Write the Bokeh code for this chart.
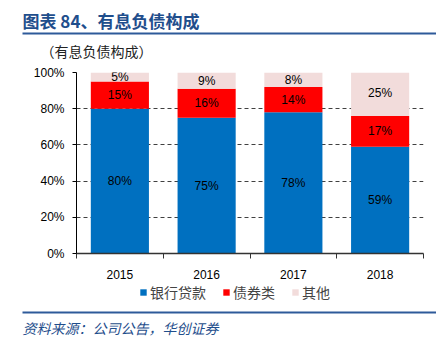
import numpy as np
from bokeh.plotting import figure
from bokeh.models import Range1d, FixedTicker, ColumnDataSource, LabelSet, Legend, LegendItem
from bokeh.layouts import column
from bokeh.embed import file_html
from bokeh.resources import INLINE
from bokeh.core.properties import value

years = ["2015", "2016", "2017", "2018"]
bank_loans = [80, 75, 78, 59]
bonds = [15, 16, 14, 17]
others = [5, 9, 8, 25]
series_names = ["银行贷款", "债券类", "其他"]
y_ticks = [0, 20, 40, 60, 80, 100]

title_text = "图表 84、有息负债构成"
subtitle_text = "（有息负债构成）"
source_text = "资料来源：公司公告，华创证券"

colors = ["#0070C0", "#FF0000", "#F2DCDB"]
cjk = "Noto Sans CJK SC"
latin = "Liberation Sans"
W = 436


def blank(height):
    fig = figure(width=W, height=height, x_range=Range1d(0, W), y_range=Range1d(height, 0),
                 output_backend="svg", toolbar_location=None,
                 x_axis_location=None, y_axis_location=None,
                 min_border=0, min_border_left=0, min_border_right=0,
                 min_border_top=0, min_border_bottom=0, frame_align=False)
    fig.grid.visible = False
    fig.outline_line_color = None
    return fig


# ---------- header ----------
h = blank(62)
h.text(x=[22], y=[20], text=[title_text], text_font=value(cjk), text_font_size="17px",
       text_font_style="bold", text_color="#1F4E8C", text_baseline="middle", text_align="left")
h.segment(x0=[22], y0=[33], x1=[W], y1=[33], line_color="#2E5A9A", line_width=2)
h.text(x=[40], y=[50], text=[subtitle_text], text_font=value(cjk), text_font_size="14px",
       text_color="#222222", text_baseline="middle", text_align="left")

# ---------- main chart ----------
xs = [i + 0.5 for i in range(len(years))]
src = ColumnDataSource(dict(x=xs, bank=bank_loans, bond=bonds, other=others))

p = figure(width=W, height=222, x_range=Range1d(0, len(years)), y_range=Range1d(0, 100),
           output_backend="svg", toolbar_location=None, frame_align=False,
           min_border_left=76, min_border_right=13, min_border_top=10, min_border_bottom=31)
p.outline_line_color = None
rs = p.vbar_stack(["bank", "bond", "other"], x="x", width=0.67, color=colors, source=src,
                  line_color=None)

# value labels
lab_x, lab_y, lab_t = [], [], []
for i in range(len(years)):
    base = 0
    for v in (bank_loans[i], bonds[i], others[i]):
        lab_x.append(xs[i])
        lab_y.append(base + v / 2)
        lab_t.append(f"{v}%")
        base += v
lsrc = ColumnDataSource(dict(x=lab_x, y=lab_y, t=lab_t))
p.add_layout(LabelSet(x="x", y="y", text="t", source=lsrc, text_align="center",
                      text_baseline="middle", text_font=value(latin), text_font_size="12px",
                      text_color="#000000"))

# axes
p.xgrid.visible = False
p.ygrid.ticker = FixedTicker(ticks=y_ticks)
p.ygrid.grid_line_color = "#404040"
p.ygrid.grid_line_dash = "4 3"
p.ygrid.grid_line_width = 1

p.yaxis.ticker = FixedTicker(ticks=y_ticks)
p.yaxis.major_label_overrides = {t: f"{t}%" for t in y_ticks}
p.yaxis.major_label_text_font = latin
p.yaxis.major_label_text_font_size = "12px"
p.yaxis.major_label_text_color = "#000000"
p.yaxis.axis_line_color = "#000000"
p.yaxis.major_tick_line_color = "#000000"
p.yaxis.major_tick_out = 4
p.yaxis.major_tick_in = 0
p.yaxis.minor_tick_line_color = None
p.yaxis.major_label_standoff = 8

p.xaxis.ticker = FixedTicker(ticks=xs, minor_ticks=list(range(len(years) + 1)))
p.xaxis.major_label_overrides = {x: y for x, y in zip(xs, years)}
p.xaxis.major_label_text_font = latin
p.xaxis.major_label_text_font_size = "12px"
p.xaxis.major_label_text_color = "#000000"
p.xaxis.axis_line_color = "#333333"
p.xaxis.axis_line_width = 1.5
p.xaxis.major_tick_line_color = None
p.xaxis.minor_tick_line_color = "#333333"
p.xaxis.minor_tick_out = 5
p.xaxis.minor_tick_in = 0
p.xaxis.major_label_standoff = 10

# ---------- footer (legend + source) ----------
f = blank(62)
proxies = [f.vbar(x=np.array([np.nan]), top=np.array([np.nan]), width=1, color=c, line_color=None)
           for c in colors]
legend = Legend(items=[LegendItem(label=n, renderers=[r]) for n, r in zip(series_names, proxies)],
                orientation="horizontal", location=(139, 44),
                border_line_color=None, background_fill_alpha=0,
                padding=0, margin=0, glyph_width=8, glyph_height=8,
                label_text_font=cjk, label_text_font_size="14px",
                label_standoff=3, spacing=16)
f.add_layout(legend)
f.segment(x0=[22], y0=[28], x1=[W], y1=[28], line_color="#2E5A9A", line_width=2)
f.text(x=[22], y=[43], text=[source_text], text_font=value(cjk), text_font_size="14px",
       text_font_style="italic", text_color="#1F4E8C", text_baseline="middle", text_align="left")

layout = column(h, p, f, spacing=0)
open("out.html", "w").write(file_html(layout, INLINE))
